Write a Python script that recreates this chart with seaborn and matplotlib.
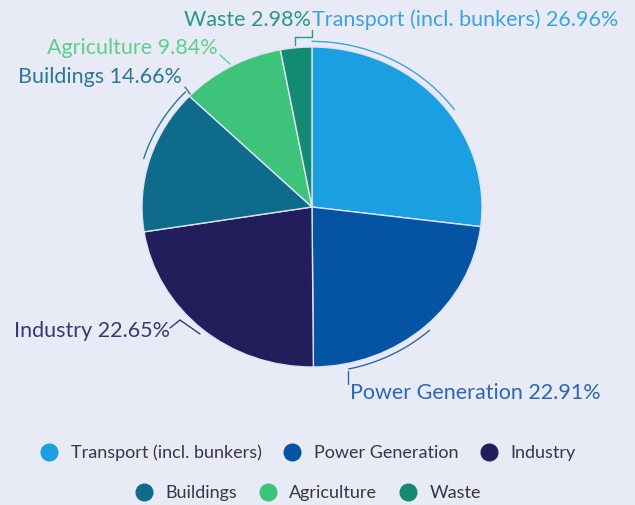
import numpy as np
import matplotlib
matplotlib.use("Agg")
import matplotlib.pyplot as plt
from matplotlib.lines import Line2D
import seaborn as sns

# values
sectors = ["Transport (incl. bunkers)", "Power Generation", "Industry",
           "Buildings", "Agriculture", "Waste"]
shares = [26.96, 22.91, 22.65, 14.66, 9.84, 2.98]
slice_colors = ["#1a9fe0", "#0553a3", "#211e5b", "#0e6b8c", "#3ec47a", "#128a74"]
label_colors = ["#3ea3dc", "#2e67ad", "#3a3870", "#2b7896", "#5ccf8d", "#2a9686"]

BG = "#e8ebf6"
W, H = 635, 505
CX, CY, RX, RY = 312, 207, 170, 160

sns.set_theme(style="white", rc={"figure.facecolor": BG, "axes.facecolor": BG})
plt.rcParams["font.family"] = ["Lato", "DejaVu Sans"]

fig = plt.figure(figsize=(W / 100, H / 100), dpi=100)
palette = sns.color_palette(slice_colors)

# pie axes placed in pixels, slightly elliptical like the reference
ax_pie = fig.add_axes([(CX - RX) / W, (H - CY - RY) / H, 2 * RX / W, 2 * RY / H])
ax_pie.pie(shares, colors=palette, startangle=90, counterclock=False, radius=1,
           wedgeprops=dict(edgecolor="#dbe4f4", linewidth=1.0))
ax_pie.set_aspect("auto")
ax_pie.set_xlim(-1, 1)
ax_pie.set_ylim(-1, 1)
ax_pie.axis("off")

# overlay in pixel coordinates for labels and leader lines
ov = fig.add_axes([0, 0, 1, 1], facecolor="none")
ov.set_xlim(0, W)
ov.set_ylim(H, 0)
ov.axis("off")


def pt(deg, r=1.0):
    a = np.radians(deg)
    return CX + RX * r * np.cos(a), CY - RY * r * np.sin(a)


def arc(a0, a1, color, r=1.035):
    t = np.linspace(a0, a1, 60)
    xs, ys = pt(t, r)
    ov.plot(xs, ys, color=color, lw=1.0)


# leader arcs / lines
arc(90, 36, label_colors[0])
arc(-78, -48, label_colors[1])
arc(136, 163, label_colors[3])
ov.plot([295, 295, 312, 312], [45, 37, 37, 30], color=label_colors[5], lw=1.0)
ov.plot([220, 230], [55, 64], color=label_colors[4], lw=1.0)
ov.plot([185, 190], [87, 94], color=label_colors[3], lw=1.0)
ov.plot([170, 180, 200], [328, 320, 334], color=label_colors[2], lw=1.0)
ov.plot([348, 348], [384, 371], color=label_colors[1], lw=1.0)

label_pos = {
    "Transport (incl. bunkers)": (312, 20, "left"),
    "Power Generation": (350, 393, "left"),
    "Industry": (170, 331, "right"),
    "Buildings": (182, 77, "right"),
    "Agriculture": (218, 48, "right"),
    "Waste": (311, 20, "right"),
}
for name, share, col in zip(sectors, shares, label_colors):
    x, y, ha = label_pos[name]
    ov.text(x, y, f"{name} {share:.2f}%", color=col, fontsize=15.5,
            ha=ha, va="center")

# two-row legend
handles = [Line2D([], [], marker="o", ls="", markersize=12, color=c)
           for c in palette]
for rows, ypx in [((0, 1, 2), 453), ((3, 4, 5), 493)]:
    fig.legend([handles[i] for i in rows], [sectors[i] for i in rows],
               loc="center", bbox_to_anchor=(307 / W, 1 - ypx / H), ncol=3,
               frameon=False, fontsize=13, handlelength=1.2,
               handletextpad=0.6, columnspacing=1.1,
               labelcolor="#363646", borderaxespad=0)

fig.savefig("out.png", dpi=100, facecolor=BG)
